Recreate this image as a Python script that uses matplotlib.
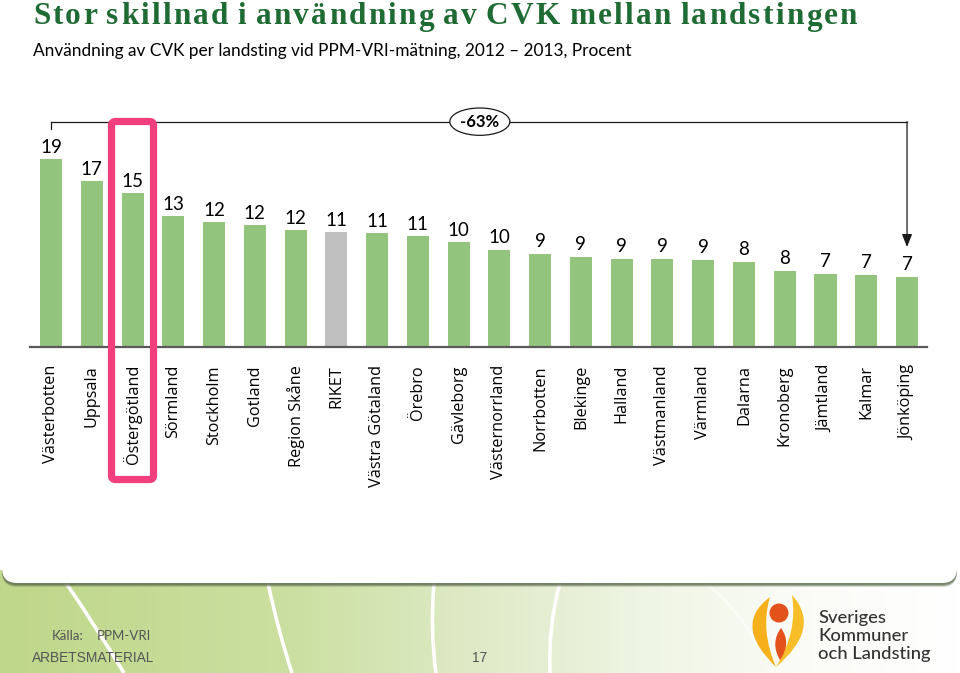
import numpy as np
import matplotlib
matplotlib.use('Agg')
import matplotlib.pyplot as plt
from matplotlib.patches import FancyBboxPatch, PathPatch, Circle
from matplotlib.path import Path
from matplotlib.colors import LinearSegmentedColormap
from matplotlib.font_manager import FontProperties
from matplotlib.textpath import TextToPath

# data
landsting = ['Västerbotten', 'Uppsala', 'Östergötland', 'Sörmland', 'Stockholm', 'Gotland',
             'Region Skåne', 'RIKET', 'Västra Götaland', 'Örebro', 'Gävleborg', 'Västernorrland',
             'Norrbotten', 'Blekinge', 'Halland', 'Västmanland', 'Värmland', 'Dalarna',
             'Kronoberg', 'Jämtland', 'Kalmar', 'Jönköping']
andel = [18.7, 16.5, 15.3, 13.0, 12.4, 12.1, 11.6, 11.4, 11.3, 11.0, 10.4, 9.7,
         9.3, 9.0, 8.8, 8.8, 8.7, 8.5, 7.6, 7.3, 7.2, 7.0]
etiketter = [19, 17, 15, 13, 12, 12, 12, 11, 11, 11, 10, 10, 9, 9, 9, 9, 9, 8, 8, 7, 7, 7]
riket = 'RIKET'
markerad = 'Östergötland'
forandring = '-63%'

titel = 'Stor skillnad i användning av CVK mellan landstingen'
undertitel = 'Användning av CVK per landsting vid PPM-VRI-mätning, 2012 \u2013 2013, Procent'

GREEN = '#93c47d'
GREY = '#c0c0c0'
PINK = '#f03f7c'
TITLE_GREEN = '#1f6b34'

fig = plt.figure(figsize=(9.6, 6.73), dpi=100)

# background axes in pixel coords (y downwards)
bg = fig.add_axes([0, 0, 1, 1])
bg.set_xlim(0, 960)
bg.set_ylim(673, 0)
bg.axis('off')

# green gradient at the bottom
cmap = LinearSegmentedColormap.from_list('sk', [(0, '#bfd78a'), (0.3, '#cbdfa0'), (0.5, '#dfebc8'),
                                                (0.7, '#f1f6e7'), (0.85, '#fbfcf8'), (1, '#ffffff')])
grad = np.linspace(0, 1, 512).reshape(1, -1)
bg.imshow(grad, cmap=cmap, extent=[0, 960, 673, 570], aspect='auto', zorder=0)

# white arcs in the footer
arcs = [((66, 583), (95, 625), (124, 673)),
        ((268, 583), (278, 630), (292, 673)),
        ((434, 583), (430, 630), (436, 673)),
        ((560, 583), (548, 625), (550, 673))]
for p0, c, p1 in arcs:
    pth = Path([p0, c, p1], [Path.MOVETO, Path.CURVE3, Path.CURVE3])
    bg.add_patch(PathPatch(pth, fc='none', ec='white', lw=2.6, zorder=1))
pth = Path([(705, 583), (735, 605), (758, 645)], [Path.MOVETO, Path.CURVE3, Path.CURVE3])
bg.add_patch(PathPatch(pth, fc='none', ec='white', lw=2, alpha=0.5, zorder=1))

# white panel with shadow
for off, a in [(4, 0.25), (3, 0.4), (2, 0.6)]:
    bg.add_patch(FancyBboxPatch((2, -30 + off), 955, 613, boxstyle='round,pad=0,rounding_size=15',
                                fc='#5d6b4e', ec='none', alpha=a, zorder=2))
bg.add_patch(FancyBboxPatch((2, -30), 955, 613, boxstyle='round,pad=0,rounding_size=15',
                            fc='white', ec='none', zorder=3))

# title with letter spacing
tprop = FontProperties(family='Liberation Serif', weight='bold', size=22.5)
ttp = TextToPath()
w = [ttp.get_text_width_height_descent(ch, tprop, ismath=False)[0] * 100 / 72 if ch != ' ' else 0
     for ch in titel]
n_sp = titel.count(' ')
space_px = 5
gap = (824 - sum(w) - n_sp * space_px) / (len(titel) - 1)
x = 33
for ch, cw in zip(titel, w):
    if ch == ' ':
        x += space_px + gap
        continue
    bg.text(x, 24.5, ch, fontproperties=tprop, color=TITLE_GREEN, ha='left', va='baseline', zorder=4)
    x += cw + gap

# subtitle fitted to width
sprop = FontProperties(family='Lato', size=10)
sw = ttp.get_text_width_height_descent(undertitel, sprop, ismath=False)[0] * 100 / 72
sprop.set_size(10 * 597 / sw)
bg.text(33, 56, undertitel, fontproperties=sprop, color='black', ha='left', va='baseline', zorder=4)

# main chart
ax = fig.add_axes([30 / 960, 1 - 347 / 673, 897 / 960, 237 / 673])
ax.set_zorder(2)
ax.patch.set_visible(False)
x = np.arange(len(landsting))
farger = [GREY if n == riket else GREEN for n in landsting]
ax.bar(x, andel, width=0.54, color=farger, zorder=2)
ax.set_xlim(-0.515, len(landsting) - 0.51)
ax.set_ylim(0, 23.58)
for s in ['top', 'right', 'left']:
    ax.spines[s].set_visible(False)
ax.spines['bottom'].set_color('#595959')
ax.spines['bottom'].set_linewidth(1.6)
ax.set_yticks([])
ax.set_xticks(x)
ax.set_xticklabels(landsting, rotation=90, fontsize=11.7, family='Open Sans', color='black')
ax.tick_params(axis='x', length=0, pad=13)

for i, (v, lab) in enumerate(zip(andel, etiketter)):
    ax.annotate(str(lab), (i, v), xytext=(0, 4.5), textcoords='offset points',
                ha='center', va='baseline', fontsize=13.5, family='Lato', color='black')

# bracket with -63%
y_br = 22.42
last = len(landsting) - 1
ax.plot([0, last], [y_br, y_br], color='#1a1a1a', lw=0.9, clip_on=False, zorder=3)
ax.plot([0, 0], [y_br, y_br - 0.75], color='#1a1a1a', lw=0.9, clip_on=False, zorder=3)
ax.annotate('', xy=(last, 9.95), xytext=(last, y_br), annotation_clip=False,
            arrowprops=dict(arrowstyle='-|>,head_length=0.55,head_width=0.22', color='#1a1a1a',
                            lw=0.9, mutation_scale=14, shrinkA=0, shrinkB=0))
ax.text(10.52, y_br, forandring, ha='center', va='center', fontsize=12, weight='bold', family='Lato',
        zorder=4, bbox=dict(boxstyle='ellipse,pad=0.1', fc='white', ec='#1a1a1a', lw=0.9))

# pink highlight box around Östergötland
idx = landsting.index(markerad)
disp = ax.transData.transform((idx, 0))
cx = bg.transData.inverted().transform(disp)[0]
fig.add_artist(FancyBboxPatch((cx - 21, 121.5), 42, 358, boxstyle='round,pad=0,rounding_size=4',
                              fc='none', ec=PINK, lw=5.2, transform=bg.transData, zorder=5))

# footer
bg.text(52, 640, 'Källa:', fontsize=9.5, family='Lato', color='#555555', va='baseline', zorder=4)
bg.text(97, 640, 'PPM-VRI', fontsize=9.5, family='Lato', color='#555555', va='baseline', zorder=4)
bg.text(32, 662, 'ARBETSMATERIAL', fontsize=9.9, family='Liberation Sans', color='#555555',
        va='baseline', zorder=4)
bg.text(480, 662, '17', fontsize=9.9, family='Liberation Sans', color='#555555',
        ha='center', va='baseline', zorder=4)

# logo
left = Path([(770, 597), (732, 625), (776, 667), (760, 630), (770, 597)],
            [Path.MOVETO, Path.CURVE3, Path.CURVE3, Path.CURVE3, Path.CURVE3])
right = Path([(792, 595), (822, 628), (776, 667), (798, 632), (792, 595)],
             [Path.MOVETO, Path.CURVE3, Path.CURVE3, Path.CURVE3, Path.CURVE3])
drop = Path([(781, 628), (792, 643), (780, 660), (770, 643), (781, 628)],
            [Path.MOVETO, Path.CURVE3, Path.CURVE3, Path.CURVE3, Path.CURVE3])
bg.add_patch(PathPatch(left, fc='#f6b01c', ec='none', zorder=4))
bg.add_patch(PathPatch(right, fc='#f8be2a', ec='none', zorder=4))
bg.add_patch(PathPatch(drop, fc='#e4521b', ec='none', zorder=5))
bg.add_patch(Circle((779, 613), 9.5, fc='#e4521b', ec='none', zorder=5))
for txt, yb in [('Sveriges', 623), ('Kommuner', 641), ('och Landsting', 659)]:
    bg.text(818, yb, txt, fontsize=13.2, family='Lato', weight='medium', color='#333333',
            va='baseline', zorder=5)

fig.savefig('out.png', dpi=100)
